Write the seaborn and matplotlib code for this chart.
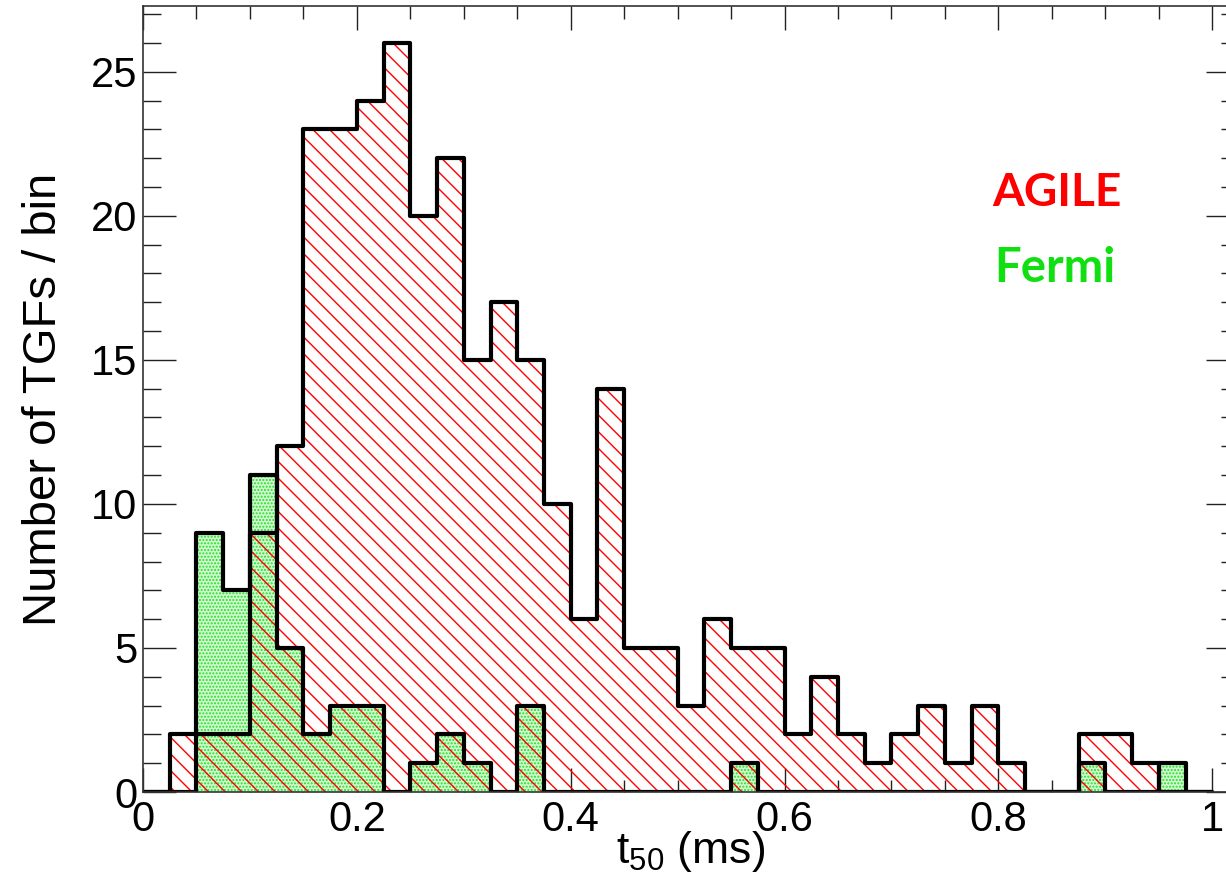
import numpy as np
import pandas as pd
import matplotlib
matplotlib.use("Agg")
import matplotlib.pyplot as plt
import seaborn as sns
from matplotlib.ticker import MultipleLocator

# ---- data (bin width 0.025 ms, range 0..1) ----
bin_width = 0.025
bin_range = (0.0, 1.0)
bin_centers = np.arange(40) * bin_width + bin_width / 2

agile_counts = [0, 2, 2, 2, 9, 12, 23, 23, 24, 26,
                20, 22, 15, 17, 15, 10, 6, 14, 5, 5,
                3, 6, 5, 5, 2, 4, 2, 1, 2, 3,
                1, 3, 1, 0, 0, 2, 2, 1, 0, 0]
fermi_counts = [0, 0, 9, 7, 11, 5, 2, 3, 3, 0,
                1, 2, 1, 0, 3, 0, 0, 0, 0, 0,
                0, 0, 1, 0, 0, 0, 0, 0, 0, 0,
                0, 0, 0, 0, 0, 1, 0, 0, 1, 0]

x_label = "t$_{\\mathregular{50}}$ (ms)"
y_label = "Number of TGFs / bin"
legend_agile = "AGILE"
legend_fermi = "Fermi"

df = pd.DataFrame({"t50": bin_centers, "agile": agile_counts, "fermi": fermi_counts})

sns.set_style("ticks")
plt.rcParams["font.family"] = ["Liberation Sans", "DejaVu Sans"]
plt.rcParams["mathtext.fontset"] = "custom"
plt.rcParams["mathtext.rm"] = "Liberation Sans"
plt.rcParams["mathtext.it"] = "Liberation Sans:italic"
plt.rcParams["hatch.linewidth"] = 1.0
plt.rcParams["text.color"] = "black"
plt.rcParams["axes.labelcolor"] = "black"
plt.rcParams["xtick.color"] = "black"
plt.rcParams["ytick.color"] = "black"

fig = plt.figure(figsize=(12.26, 8.86), dpi=100)
ax = fig.add_axes([143 / 1226, 1 - 792 / 886, 1096 / 1226, 786 / 886])

hist_kw = dict(binwidth=bin_width, binrange=bin_range, element="step", ax=ax)

# Fermi fill: pale green with green dots
sns.histplot(data=df, x="t50", weights="fermi", fill=True, color="#22dd22",
             facecolor="#d4fbd4", edgecolor="#22dd22", linewidth=0,
             hatch=".....", alpha=1, **hist_kw)
# AGILE fill: red diagonal hatch, transparent face
sns.histplot(data=df, x="t50", weights="agile", fill=True, color="#ff0000",
             facecolor=(1, 1, 1, 0), edgecolor="#ff0000", linewidth=0,
             hatch="\\\\", alpha=1, **hist_kw)
# outlines
sns.histplot(data=df, x="t50", weights="agile", fill=False, color="black",
             linewidth=3.0, **hist_kw)
sns.histplot(data=df, x="t50", weights="fermi", fill=False, color="black",
             linewidth=3.0, **hist_kw)

ax.set_xlim(0, 1.025)
ax.set_ylim(0, 27.28)
ax.xaxis.set_major_locator(MultipleLocator(0.2))
ax.xaxis.set_minor_locator(MultipleLocator(0.05))
ax.yaxis.set_major_locator(MultipleLocator(5))
ax.yaxis.set_minor_locator(MultipleLocator(1))
ax.xaxis.set_major_formatter(matplotlib.ticker.FuncFormatter(lambda v, p: f"{v:g}"))

ax.tick_params(axis="both", which="both", direction="in", top=True, right=True,
               width=1.0, color="#222222", labelcolor="black", labelsize=30)
ax.tick_params(axis="y", which="major", length=24, pad=4)
ax.tick_params(axis="y", which="minor", length=13)
ax.tick_params(axis="x", which="major", length=17, pad=6)
ax.tick_params(axis="x", which="minor", length=9)
for s in ax.spines.values():
    s.set_linewidth(1.2)
    s.set_color("#333333")

ax.set_xlabel(x_label, fontsize=32, labelpad=-8)
ax.set_ylabel(y_label, fontsize=34, labelpad=18)

ax.text(0.855, 20.8, legend_agile, color="#ff0000", fontsize=33, fontweight="bold",
        family=["Lato", "DejaVu Sans"], ha="center", va="center")
ax.text(0.853, 18.2, legend_fermi, color="#10e010", fontsize=34, fontweight="bold",
        family=["Lato", "DejaVu Sans"], ha="center", va="center")

fig.savefig("out.png", dpi=100)
